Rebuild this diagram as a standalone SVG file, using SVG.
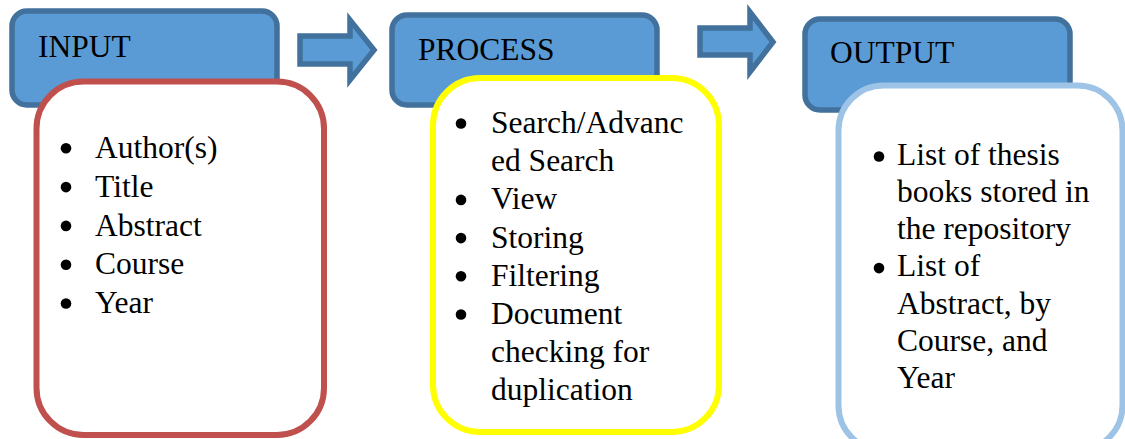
<svg xmlns="http://www.w3.org/2000/svg" width="1125" height="439" viewBox="0 0 1125 439">
<style>
.hdr{fill:#5B9BD5;stroke:#41719C;stroke-width:5.5}
.arr{fill:#5B9BD5;stroke:#41719C;stroke-width:5.5;stroke-linejoin:miter}
.card{fill:#FFFFFF;stroke-width:6}
text{font-family:"Liberation Serif","Times New Roman",serif;font-size:31.5px;fill:#000}
.dot{fill:#000}
</style>
<rect width="1125" height="439" fill="#FFFFFF"/>
<g id="connectors">
<path class="arr" d="M300,36 H350 V20 L374,50 L350,80 V64 H300 Z"/>
<path class="arr" d="M700,28 H750 V12 L773,42 L750,72 V55 H700 Z"/>
</g>
<g id="input">
<rect class="hdr" x="12" y="11" width="265" height="94" rx="15"/>
<text x="38" y="57">INPUT</text>
<rect class="card" x="36.5" y="81.5" width="287.5" height="353.5" rx="47" stroke="#C0504D"/>
<circle class="dot" cx="66" cy="148.3" r="5.3"/><text x="95" y="158">Author(s)</text>
<circle class="dot" cx="66" cy="187.1" r="5.3"/><text x="95" y="196.8">Title</text>
<circle class="dot" cx="66" cy="225.9" r="5.3"/><text x="95" y="235.6">Abstract</text>
<circle class="dot" cx="66" cy="264.7" r="5.3"/><text x="95" y="274.4">Course</text>
<circle class="dot" cx="66" cy="303.5" r="5.3"/><text x="95" y="313.2">Year</text>
</g>
<g id="process">
<rect class="hdr" x="392" y="15" width="265" height="90" rx="15"/>
<text x="418" y="60">PROCESS</text>
<rect class="card" x="433" y="78" width="286" height="354" rx="47" stroke="#FFFF00"/>
<circle class="dot" cx="461" cy="123.5" r="5.3"/><text x="491" y="133">Search/Advanc</text>
<text x="491" y="171.2">ed Search</text>
<circle class="dot" cx="461" cy="199.9" r="5.3"/><text x="491" y="209.4">View</text>
<circle class="dot" cx="461" cy="238.1" r="5.3"/><text x="491" y="247.6">Storing</text>
<circle class="dot" cx="461" cy="276.3" r="5.3"/><text x="491" y="285.8">Filtering</text>
<circle class="dot" cx="461" cy="314.5" r="5.3"/><text x="491" y="324">Document</text>
<text x="491" y="362.2">checking for</text>
<text x="491" y="400.4">duplication</text>
</g>
<g id="output">
<rect class="hdr" x="805" y="19" width="265" height="91" rx="15"/>
<text x="830" y="63">OUTPUT</text>
<rect class="card" x="838.5" y="85.5" width="284" height="365" rx="45" stroke="#9DC3E6"/>
<circle class="dot" cx="879" cy="156.5" r="5.3"/><text x="897" y="164.8">List of thesis</text>
<text x="897" y="202">books stored in</text>
<text x="897" y="239.2">the repository</text>
<circle class="dot" cx="879" cy="268.1" r="5.3"/><text x="897" y="276.4">List of</text>
<text x="897" y="313.6">Abstract, by</text>
<text x="897" y="350.8">Course, and</text>
<text x="897" y="388">Year</text>
</g>
</svg>
